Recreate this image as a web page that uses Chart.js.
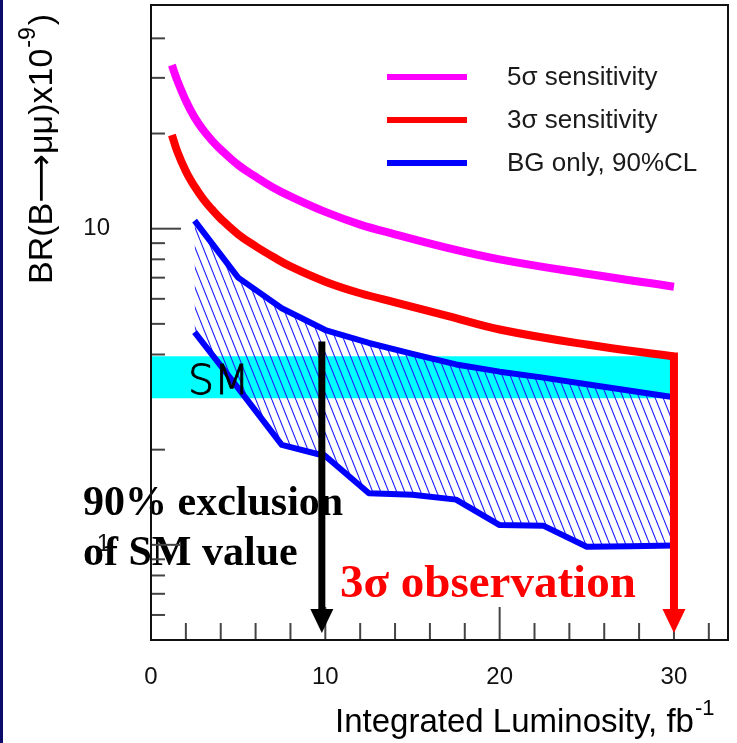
<!DOCTYPE html>
<html>
<head>
<meta charset="utf-8">
<script src="https://cdn.jsdelivr.net/npm/chart.js@4"></script>
<style>
  html, body { margin: 0; padding: 0; background: #fff; }
  #wrap { width: 737px; height: 743px; }
</style>
</head>
<body>
<div id="wrap"><canvas id="lumiChart" width="737" height="743"></canvas></div>
<script>
// BR(B->mumu) reach vs integrated luminosity (fb^-1), BR in units of 1e-9
const lumiSens = [1.2, 1.5, 2, 2.5, 3, 3.5, 4, 5, 6, 7, 8, 10, 12, 14, 17, 20, 25, 30];
const br5sigma = [32.9, 29.5, 25.4, 22.5, 20.5, 19.0, 17.8, 15.9, 14.6, 13.5, 12.65, 11.3, 10.3, 9.6, 8.7, 8.0, 7.2, 6.55];
const br3sigma = [19.8, 17.6, 15.2, 13.6, 12.4, 11.5, 10.75, 9.6, 8.8, 8.15, 7.6, 6.8, 6.25, 5.85, 5.3, 4.8, 4.3, 3.94];

// background-only 90% CL band, upper and lower edge
const lumiBG   = [2.5, 5, 7.5, 10, 12.5, 15, 17.5, 20, 22.5, 25, 27.5, 30];
const brBGhigh = [10.6, 7.0, 5.6, 4.78, 4.35, 4.02, 3.72, 3.53, 3.38, 3.22, 3.07, 2.93];
const brBGlow  = [4.71, 3.13, 2.07, 1.91, 1.455, 1.44, 1.39, 1.155, 1.15, 0.986, 0.99, 0.995];

// Standard Model expectation
const smLumi = [0, 30];
const smBand = [2.91, 3.95];

const xTickLabels = [0, 10, 20, 30];
const xMinorTicks = [2, 4, 6, 8, 12, 14, 16, 18, 22, 24, 26, 28, 32];
const yTickLabels = [1, 10];
const yMinorTicks = [0.6, 0.7, 0.8, 0.9, 2, 3, 4, 5, 6, 7, 8, 9, 20, 30, 40];

const legendLabels = ['5σ sensitivity', '3σ sensitivity', 'BG only, 90%CL'];
const exclusionText = ['90% exclusion', 'of SM value'];
const observationText = '3σ observation';
const exclusionLumi = 9.8;     // where the SM value gets excluded
const exclusionFrom = 4.4;
const observationLumi = 30;    // 3 sigma observation reach

const pts = (xs, ys) => xs.map((x, i) => ({ x: x, y: ys[i] }));
const SANS = '"Liberation Sans", "DejaVu Sans", sans-serif';

function hatchPattern() {
    const c = document.createElement('canvas');
    c.width = 8; c.height = 20;
    const g = c.getContext('2d');
    g.strokeStyle = '#2020ff';
    g.lineWidth = 1.1;
    for (const dx of [-8, 0, 8]) {
        g.beginPath();
        g.moveTo(dx, 0);
        g.lineTo(dx + 8, 20);
        g.stroke();
    }
    return g.createPattern(c, 'repeat');
}

function arrowDown(ctx, x, yTop, yTip, color, width) {
    ctx.strokeStyle = color;
    ctx.fillStyle = color;
    ctx.lineWidth = width;
    ctx.lineCap = 'butt';
    ctx.beginPath();
    ctx.moveTo(x, yTop);
    ctx.lineTo(x, yTip - 18);
    ctx.stroke();
    ctx.beginPath();
    ctx.moveTo(x - 11.5, yTip - 24);
    ctx.lineTo(x + 11.5, yTip - 24);
    ctx.lineTo(x, yTip);
    ctx.closePath();
    ctx.fill();
}

const plotDecor = {
    id: 'plotDecor',
    beforeDraw(chart) {
        const { ctx, chartArea: a, scales } = chart;
        ctx.save();
        ctx.fillStyle = '#fff';
        ctx.fillRect(0, 0, chart.width, chart.height);

        // annotation text sits under the axes
        ctx.textAlign = 'left';
        ctx.textBaseline = 'alphabetic';
        ctx.fillStyle = '#000';
        ctx.font = 'bold 42px "Liberation Serif"';
        ctx.fillText(exclusionText[0], 83, 515);
        ctx.fillText(exclusionText[1], 83, 565);
        ctx.fillStyle = '#ff0000';
        ctx.font = 'bold 47px "Liberation Serif"';
        ctx.fillText(observationText, 340, 597);

        // ticks point into the frame
        ctx.strokeStyle = '#444';
        ctx.lineWidth = 2;
        const seg = (x1, y1, x2, y2) => {
            ctx.beginPath(); ctx.moveTo(x1, y1); ctx.lineTo(x2, y2); ctx.stroke();
        };
        xTickLabels.forEach(v => { const x = scales.x.getPixelForValue(v); seg(x, a.bottom, x, a.bottom - 33); });
        xMinorTicks.forEach(v => { const x = scales.x.getPixelForValue(v); seg(x, a.bottom, x, a.bottom - 17); });
        yTickLabels.forEach(v => { const y = scales.y.getPixelForValue(v); seg(a.left, y, a.left + 30, y); });
        yMinorTicks.forEach(v => { const y = scales.y.getPixelForValue(v); seg(a.left, y, a.left + 14, y); });
        ctx.restore();
    },
    afterDatasetsDraw(chart) {
        const { ctx, chartArea: a, scales } = chart;
        ctx.save();

        // SM label in the band
        ctx.fillStyle = '#000';
        ctx.strokeStyle = '#000';
        ctx.lineWidth = 0.9;
        ctx.font = '200 41px "DejaVu Sans"';
        ctx.textBaseline = 'alphabetic';
        ctx.fillText('SM', 188, 394);
        ctx.strokeText('SM', 188, 394);

        // frame
        ctx.strokeStyle = '#111';
        ctx.lineWidth = 2;
        ctx.strokeRect(a.left, a.top, a.right - a.left, a.bottom - a.top);

        // legend
        const sets = chart.data.datasets;
        legendLabels.forEach((t, i) => {
            const y = 77 + i * 43;
            ctx.strokeStyle = sets[i].borderColor;
            ctx.lineWidth = 6;
            ctx.beginPath(); ctx.moveTo(387, y); ctx.lineTo(467, y); ctx.stroke();
            ctx.fillStyle = '#1a1a1a';
            ctx.font = '26px ' + SANS;
            ctx.textBaseline = 'middle';
            ctx.fillText(t, 507, y + 1);
        });

        // arrows
        const tip = a.bottom - 7;
        arrowDown(ctx, scales.x.getPixelForValue(exclusionLumi),
            scales.y.getPixelForValue(exclusionFrom), tip, '#000', 7);
        arrowDown(ctx, scales.x.getPixelForValue(observationLumi),
            scales.y.getPixelForValue(br3sigma[br3sigma.length - 1]) - 4, tip, '#ff0000', 8);
        ctx.restore();
    },
    afterDraw(chart) {
        const { ctx } = chart;
        ctx.save();
        ctx.fillStyle = '#000';
        ctx.textBaseline = 'alphabetic';
        ctx.textAlign = 'left';

        // x title with superscript
        ctx.font = '33px ' + SANS;
        const xt = 'Integrated Luminosity, fb';
        ctx.fillText(xt, 335, 732);
        const xw = ctx.measureText(xt).width;
        ctx.font = '22px ' + SANS;
        ctx.fillText('-1', 335 + xw + 1, 715);

        // y title, rotated
        ctx.translate(52, 284);
        ctx.rotate(-Math.PI / 2);
        ctx.font = '34px ' + SANS;
        const yt = 'BR(B⟶μμ)x10';
        ctx.fillText(yt, 0, 0);
        const yw = ctx.measureText(yt).width;
        ctx.font = '23px ' + SANS;
        ctx.fillText('-9', yw + 1, -17);
        const sw = ctx.measureText('-9').width;
        ctx.font = '34px ' + SANS;
        ctx.fillText(')', yw + sw + 3, 0);
        ctx.restore();

        // slide edge
        ctx.fillStyle = '#0b0b6b';
        ctx.fillRect(0, 0, 3, chart.height);
    }
};

const tickFont = { family: 'Liberation Sans', size: 24 };

new Chart(document.getElementById('lumiChart'), {
    type: 'line',
    data: {
        datasets: [
            {
                label: legendLabels[0],
                data: pts(lumiSens, br5sigma),
                borderColor: '#ff00ff',
                borderWidth: 8,
                borderCapStyle: 'butt',
                tension: 0.4,
                pointRadius: 0,
                fill: false
            },
            {
                label: legendLabels[1],
                data: pts(lumiSens, br3sigma),
                borderColor: '#ff0000',
                borderWidth: 8,
                borderCapStyle: 'butt',
                tension: 0.4,
                pointRadius: 0,
                fill: false
            },
            {
                label: legendLabels[2],
                data: pts(lumiBG, brBGhigh),
                borderColor: '#0000ff',
                borderWidth: 6,
                borderJoinStyle: 'round',
                tension: 0,
                pointRadius: 0,
                fill: '+1',
                backgroundColor: hatchPattern()
            },
            {
                label: 'BG lower',
                data: pts(lumiBG, brBGlow),
                borderColor: '#0000ff',
                borderWidth: 6,
                borderJoinStyle: 'round',
                tension: 0,
                pointRadius: 0,
                fill: false
            },
            {
                label: 'SM high',
                data: pts(smLumi, [smBand[1], smBand[1]]),
                borderColor: 'rgba(0,0,0,0)',
                borderWidth: 0,
                pointRadius: 0,
                fill: '+1',
                backgroundColor: '#00ffff'
            },
            {
                label: 'SM low',
                data: pts(smLumi, [smBand[0], smBand[0]]),
                borderColor: 'rgba(0,0,0,0)',
                borderWidth: 0,
                pointRadius: 0,
                fill: false
            }
        ]
    },
    options: {
        responsive: false,
        animation: false,
        layout: { padding: { top: 5, right: 9, left: 0, bottom: 0 }, autoPadding: false },
        plugins: {
            legend: { display: false },
            tooltip: { enabled: false },
            filler: { drawTime: 'beforeDatasetsDraw' }
        },
        scales: {
            x: {
                type: 'linear',
                min: 0,
                max: 33.1,
                grid: { display: false, drawTicks: false },
                border: { display: false },
                afterBuildTicks: s => { s.ticks = xTickLabels.map(v => ({ value: v })); },
                afterFit: s => { s.height = 103; s.paddingLeft = 0; s.paddingRight = 0; },
                ticks: {
                    padding: 23,
                    font: tickFont,
                    color: '#111',
                    maxRotation: 0,
                    autoSkip: false,
                    callback: v => String(v)
                }
            },
            y: {
                type: 'logarithmic',
                min: 0.5,
                max: 51,
                grid: { display: false, drawTicks: false },
                border: { display: false },
                afterBuildTicks: s => { s.ticks = yTickLabels.map(v => ({ value: v })); },
                // labels sit far from the axis; don't let that padding push the plot down
                afterFit: s => { s.width = 151; s.paddingTop = 0; s.paddingBottom = 0; },
                ticks: {
                    padding: 41,
                    font: tickFont,
                    color: '#111',
                    autoSkip: false,
                    callback: v => String(v)
                }
            }
        }
    },
    plugins: [plotDecor]
});
</script>
</body>
</html>
